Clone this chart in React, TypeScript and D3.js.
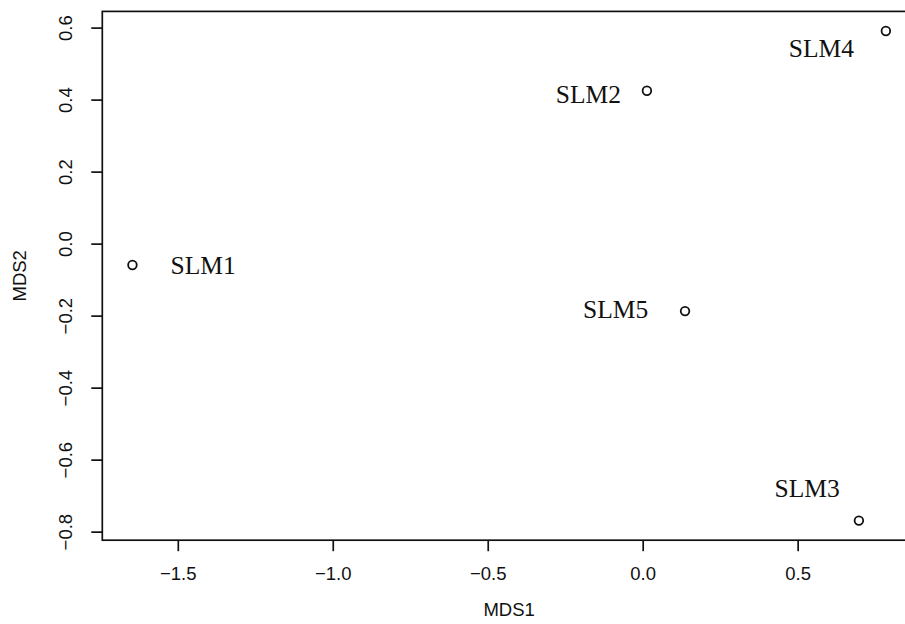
import * as d3 from "d3";
import React from "react";

// MDS ordination of the five samples
const samples = ["SLM1", "SLM2", "SLM3", "SLM4", "SLM5"];
const mds1 = [-1.648, 0.012, 0.696, 0.783, 0.135];
const mds2 = [-0.058, 0.426, -0.768, 0.592, -0.186];

// where text() put the names, in data units
const labelMds1 = [-1.42, -0.177, 0.529, 0.575, -0.089];
const labelMds2 = [-0.061, 0.416, -0.678, 0.544, -0.182];

const xTicks = [-1.5, -1.0, -0.5, 0.0, 0.5];
const yTicks = [-0.8, -0.6, -0.4, -0.2, 0.0, 0.2, 0.4, 0.6];

const width = 905;
const height = 624;
const margin = {left: 102.3, right: -11, top: 11.4, bottom: 83.8};

// R style range: data extent padded by 4% on each side
const pad = (vals: number[]) => {
    const [lo, hi] = d3.extent(vals) as [number, number];
    const d = (hi - lo) * 0.04;
    return [lo - d, hi + d];
};

const App = () => {
    const x = d3.scaleLinear()
        .domain(pad(mds1))
        .range([margin.left, width - margin.right]);
    const y = d3.scaleLinear()
        .domain(pad(mds2))
        .range([height - margin.bottom, margin.top]);

    const fmt = d3.format(".1f");
    const [x0, x1] = x.range();
    const [y0, y1] = y.range();
    const sans = "'Liberation Sans', Arial, sans-serif";

    return (
        <svg width={width} height={height}
             style={{position: "fixed", left: 0, top: 0, background: "#fff"}}>
            <g stroke="#111" strokeWidth={1.7} fill="none">
                <rect x={x0} y={y1} width={x1 - x0} height={y0 - y1}/>
                {xTicks.map(t => (
                    <line key={t} x1={x(t)} x2={x(t)} y1={y0} y2={y0 + 11}/>
                ))}
                {yTicks.map(t => (
                    <line key={t} x1={x0} x2={x0 - 11} y1={y(t)} y2={y(t)}/>
                ))}
            </g>

            <g fontFamily={sans} fontSize={18.5} fill="#111" textAnchor="middle">
                {xTicks.map(t => (
                    <text key={t} x={x(t)} y={y0 + 39.5}>{fmt(t)}</text>
                ))}
                {yTicks.map(t => (
                    <text key={t} transform={`translate(${x0 - 30},${y(t)}) rotate(-90)`}>
                        {fmt(t)}
                    </text>
                ))}
                <text x={(x0 + x1) / 2} y={y0 + 76}>MDS1</text>
                <text transform={`translate(${26},${(y0 + y1) / 2}) rotate(-90)`}>MDS2</text>
            </g>

            <g stroke="#111" strokeWidth={1.8} fill="none">
                {samples.map((s, i) => (
                    <circle key={s} cx={x(mds1[i])} cy={y(mds2[i])} r={4.3}/>
                ))}
            </g>

            <g fontFamily="'Liberation Serif', 'Times New Roman', serif" fontSize={25.5}
               fill="#111" textAnchor="middle">
                {samples.map((s, i) => (
                    <text key={s} x={x(labelMds1[i])} y={y(labelMds2[i])} dy="0.33em">{s}</text>
                ))}
            </g>
        </svg>
    );
};

export default App;
